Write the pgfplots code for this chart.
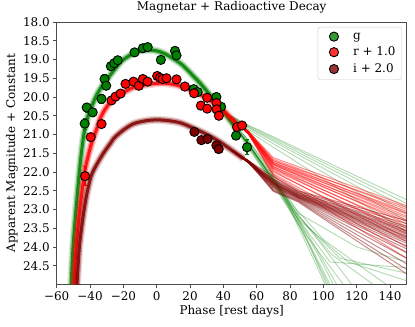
\documentclass[border=0pt]{standalone}
\usepackage{fontspec}
\setmainfont{DejaVu Serif}
\usepackage{pgfplots}
\usepackage{pgfplotstable}
\pgfplotsset{compat=1.18}
\definecolor{gcol}{HTML}{008000}
\definecolor{rcol}{HTML}{FF0000}
\definecolor{icol}{HTML}{800000}

% model bands
\pgfplotstableread{
x y
-51.3 25.0
-50.2 24.0
-48.4 23.0
-46.4 22.0
-45.2 21.5
-43.7 21.0
-41.5 20.55
-39.0 20.25
-36.0 19.95
-33.0 19.72
-29.3 19.5
-25.0 19.25
-20.7 19.03
-15.0 18.86
-10.0 18.77
-6.0 18.74
0.0 18.77
5.0 18.85
10.0 18.98
15.0 19.13
20.0 19.35
26.0 19.63
32.0 19.95
36.0 20.17
40.0 20.39
45.0 20.68
49.0 20.92
}\gband
\pgfplotstableread{
x y
-49.6 25.0
-48.4 24.0
-46.2 23.0
-43.2 22.0
-41.0 21.55
-38.5 21.15
-36.0 20.85
-33.7 20.55
-31.0 20.33
-28.0 20.15
-24.0 19.99
-20.0 19.88
-13.7 19.74
-5.0 19.66
4.0 19.63
12.0 19.68
20.0 19.8
28.0 19.98
36.0 20.21
42.0 20.45
48.0 20.72
}\rband
\pgfplotstableread{
x y
-47.8 25.0
-46.4 24.0
-44.2 23.2
-42.0 22.6
-39.3 22.1
-36.0 21.8
-32.0 21.5
-28.0 21.25
-25.7 21.1
-20.0 20.88
-13.7 20.71
-6.0 20.63
0.3 20.61
7.0 20.63
14.3 20.69
22.0 20.83
30.2 21.0
38.0 21.2
46.0 21.45
52.0 21.64
}\iband

% photometry: phase, mag, err
\pgfplotstableread{
x y e
-43.2 20.71 0.15
-42.0 20.28 0.12
-38.4 20.41 0.10
-33.1 20.05 0.12
-31.3 19.52 0.12
-30.3 19.70 0.10
-27.5 19.18 0.10
-25.5 19.10 0.08
-23.4 19.02 0.08
-13.3 18.81 0.05
-8.3 18.70 0.05
-5.4 18.67 0.05
2.5 19.01 0.05
11.0 18.77 0.06
11.9 18.89 0.06
22.2 19.79 0.06
24.6 19.87 0.06
35.8 20.00 0.06
38.6 20.26 0.08
47.6 21.03 0.10
54.2 21.34 0.20
}\gpts
\pgfplotstableread{
x y e
-43.0 22.11 0.25
-39.6 21.07 0.08
-33.1 20.72 0.08
-27.1 20.09 0.06
-24.7 19.99 0.06
-21.7 19.91 0.06
-18.7 19.65 0.05
-13.9 19.59 0.05
-10.7 19.70 0.05
-8.3 19.52 0.05
-5.5 19.59 0.05
0.3 19.44 0.05
2.0 19.49 0.05
3.5 19.52 0.05
5.9 19.50 0.05
11.9 19.53 0.05
16.9 19.72 0.05
22.4 19.90 0.05
26.5 20.23 0.05
30.3 20.02 0.05
30.3 20.31 0.08
35.9 20.16 0.06
35.9 20.33 0.08
37.3 20.50 0.10
48.2 20.80 0.10
51.2 20.76 0.10
}\rpts
\pgfplotstableread{
x y e
22.6 20.93 0.05
26.8 21.15 0.05
30.5 21.12 0.05
35.8 21.29 0.06
37.2 21.39 0.06
}\ipts

\pgfplotsset{
  bandA/.style={line width=8bp, opacity=0.15, smooth, tension=0.5, line join=round, forget plot},
  bandB/.style={line width=5.5bp, opacity=0.35, smooth, tension=0.5, line join=round, forget plot},
  bandC/.style={line width=3bp, opacity=0.85, smooth, tension=0.5, line join=round, forget plot},
  fan/.style={line width=1bp, opacity=0.45, line join=round, forget plot},
  gfan/.style={gcol, line width=0.9bp, opacity=0.3, line join=round, forget plot},
  pts/.style={only marks, mark=*, mark size=4.6bp,
    mark options={fill=#1, draw=black, line width=0.9bp},
    error bars/.cd, y dir=both, y explicit,
    error bar style={color=#1, line width=1.3bp},
    error mark options={color=#1, mark size=2.2bp, line width=1bp, rotate=90}},
}

\begin{document}
\begin{tikzpicture}
\begin{axis}[
  scale only axis, width=350bp, height=262.5bp,
  xmin=-60, xmax=150, ymin=18, ymax=25, y dir=reverse,
  xtick={-60,-40,-20,0,20,40,60,80,100,120,140},
  xticklabels={−60,−40,−20,0,20,40,60,80,100,120,140},
  ytick={18,18.5,19,19.5,20,20.5,21,21.5,22,22.5,23,23.5,24,24.5},
  yticklabels={18.0,18.5,19.0,19.5,20.0,20.5,21.0,21.5,22.0,22.5,23.0,23.5,24.0,24.5},
  tick pos=left, tick align=outside, major tick length=3.5bp,
  axis line style={black!70, line width=0.8bp},
  tick style={black!70, line width=0.8bp},
  tick label style={font=\fontsize{12}{14}\selectfont},
  title={Magnetar + Radioactive Decay},
  title style={at={(axis description cs:0.5,1.021)}, anchor=base, font=\fontsize{12}{14}\selectfont},
  xlabel={Phase [rest days]},
  xlabel style={at={(axis description cs:0.5,-0.1124)}, anchor=base, font=\fontsize{12}{14}\selectfont},
  ylabel={Apparent Magnitude + Constant},
  ylabel style={at={(axis description cs:-0.119,0.5)}, anchor=base, font=\fontsize{12}{14}\selectfont},
  legend style={at={(axis description cs:0.9857,0.981)}, anchor=north east,
    draw=black!20, rounded corners=2.5bp, fill=white, fill opacity=0.8, text opacity=1,
    font=\fontsize{12}{14}\selectfont, row sep=2.5bp, inner xsep=4bp, inner ysep=3.5bp},
  legend cell align=left,
  legend image code/.code={\path (0cm,0cm) (1.02cm,0cm);
    \draw[#1] plot coordinates {(0.42cm,0cm)};},
]
% green fan
\addplot[gfan] coordinates {(40,20.39)(55,20.75)(150,22.74)};
\addplot[gfan] coordinates {(40,20.39)(55,20.77)(150,22.84)};
\addplot[gfan] coordinates {(40,20.39)(55,20.80)(150,22.95)};
\addplot[gfan] coordinates {(40,20.39)(55,20.82)(150,23.1)};
\addplot[gfan] coordinates {(40,20.39)(55,20.86)(150,23.3)};
\addplot[gfan] coordinates {(40,20.39)(58,21.0)(150,23.6)};
\addplot[gfan] coordinates {(40,20.39)(54,21.2)(70,22.2)(80,22.85)(100,24.0)(117,25)};
\addplot[gfan] coordinates {(40,20.39)(54,21.15)(70,22.25)(78,22.8)(92,24.0)(102,25)};
\addplot[gfan] coordinates {(40,20.39)(54,21.25)(70,22.3)(80,23.0)(96,24.5)(101,25)};
\addplot[gfan] coordinates {(40,20.39)(54,21.2)(70,22.15)(82,23.0)(105,24.2)(130,25)};
\addplot[gfan] coordinates {(40,20.39)(54,21.1)(70,22.1)(85,23.2)(110,24.3)(150,24.7)};
\addplot[gfan] coordinates {(40,20.39)(54,21.1)(70,22.05)(85,23.1)(120,24.0)(150,24.4)};
\addplot[gfan] coordinates {(40,20.39)(54,21.25)(70,22.3)(75,22.6)(90,23.6)(108,25)};
\addplot[gfan] coordinates {(40,20.39)(54,21.2)(70,22.2)(80,22.8)(100,23.8)(125,24.6)(138,25)};
\addplot[gfan] coordinates {(40,20.39)(54,21.2)(70,22.2)(80,22.9)(98,24.3)(106,25)};
\addplot[gfan] coordinates {(40,20.39)(54,21.3)(70,22.35)(88,23.6)(104,25)};
\addplot[gfan] coordinates {(40,20.39)(54,21.15)(70,22.15)(86,23.3)(115,24.4)(150,24.9)};
\addplot[gfan] coordinates {(40,20.39)(54,21.2)(70,22.2)(90,23.7)(112,25)};
\addplot[gfan] coordinates {(40,20.39)(54,21.2)(70,22.22)(84,23.2)(104,24.4)(150,24.55)};
\addplot[gfan] coordinates {(40,20.39)(54,21.22)(70,22.26)(86,23.45)(103,25)};
% red fan
\addplot[rcol,fan] coordinates {(42,20.45)(55,20.92)(70,21.62)(150,22.9)};
\addplot[rcol,fan] coordinates {(42,20.45)(55,20.98)(70,21.7)(150,22.95)};
\addplot[rcol,fan] coordinates {(42,20.45)(55,20.92)(70,21.66)(150,23.0)};
\addplot[rcol,fan] coordinates {(42,20.45)(55,20.98)(70,21.75)(150,23.05)};
\addplot[rcol,fan] coordinates {(42,20.45)(55,20.92)(70,21.7)(150,23.1)};
\addplot[rcol,fan] coordinates {(42,20.45)(55,20.98)(70,21.78)(150,23.12)};
\addplot[rcol,fan] coordinates {(42,20.45)(55,20.92)(70,21.74)(150,23.18)};
\addplot[rcol,fan] coordinates {(42,20.45)(55,20.98)(70,21.82)(150,23.22)};
\addplot[rcol,fan] coordinates {(42,20.45)(55,20.92)(70,21.78)(150,23.28)};
\addplot[rcol,fan] coordinates {(42,20.45)(55,20.98)(70,21.86)(150,23.32)};
\addplot[rcol,fan] coordinates {(42,20.45)(55,20.92)(70,21.8)(150,23.38)};
\addplot[rcol,fan] coordinates {(42,20.45)(55,20.98)(70,21.9)(150,23.45)};
\addplot[rcol,fan] coordinates {(42,20.45)(55,20.92)(70,21.86)(150,23.5)};
\addplot[rcol,fan] coordinates {(42,20.45)(55,20.98)(70,21.94)(150,23.58)};
\addplot[rcol,fan] coordinates {(42,20.45)(55,20.92)(70,21.9)(150,23.65)};
\addplot[rcol,fan] coordinates {(42,20.45)(55,20.98)(70,22.0)(150,23.75)};
\addplot[rcol,fan] coordinates {(42,20.45)(55,20.92)(70,21.97)(150,23.85)};
\addplot[rcol,fan] coordinates {(42,20.45)(55,20.98)(70,22.05)(150,24.0)};
\addplot[rcol,fan] coordinates {(42,20.45)(55,20.95)(70,22.08)(150,24.15)};
\addplot[rcol,fan] coordinates {(42,20.45)(55,20.98)(70,22.12)(150,24.3)};
% dark red fan
\addplot[icol,fan] coordinates {(45,21.42)(55,21.7)(70,22.12)(85,22.5)(150,23.3)};
\addplot[icol,fan] coordinates {(45,21.42)(55,21.75)(70,22.18)(85,22.52)(150,23.38)};
\addplot[icol,fan] coordinates {(45,21.42)(55,21.7)(70,22.2)(85,22.55)(150,23.45)};
\addplot[icol,fan] coordinates {(45,21.42)(55,21.75)(70,22.24)(85,22.56)(150,23.5)};
\addplot[icol,fan] coordinates {(45,21.42)(55,21.7)(70,22.22)(85,22.58)(150,23.55)};
\addplot[icol,fan] coordinates {(45,21.42)(55,21.75)(70,22.27)(85,22.6)(150,23.58)};
\addplot[icol,fan] coordinates {(45,21.42)(55,21.7)(70,22.25)(85,22.6)(150,23.62)};
\addplot[icol,fan] coordinates {(45,21.42)(55,21.75)(70,22.3)(85,22.62)(150,23.66)};
\addplot[icol,fan] coordinates {(45,21.42)(55,21.7)(70,22.28)(85,22.63)(150,23.7)};
\addplot[icol,fan] coordinates {(45,21.42)(55,21.75)(70,22.32)(85,22.64)(150,23.73)};
\addplot[icol,fan] coordinates {(45,21.42)(55,21.7)(70,22.3)(85,22.65)(150,23.77)};
\addplot[icol,fan] coordinates {(45,21.42)(55,21.75)(70,22.34)(85,22.66)(150,23.8)};
\addplot[icol,fan] coordinates {(45,21.42)(55,21.7)(70,22.33)(85,22.67)(150,23.85)};
\addplot[icol,fan] coordinates {(45,21.42)(55,21.75)(70,22.37)(85,22.68)(150,23.9)};
\addplot[icol,fan] coordinates {(45,21.42)(55,21.7)(70,22.38)(85,22.69)(150,23.97)};
\addplot[icol,fan] coordinates {(45,21.42)(55,21.75)(70,22.4)(85,22.7)(150,24.05)};
\addplot[icol,fan] coordinates {(45,21.42)(55,21.7)(70,22.42)(85,22.72)(150,24.15)};
\addplot[icol,fan] coordinates {(45,21.42)(55,21.75)(70,22.45)(85,22.74)(150,24.3)};
\addplot[icol,fan] coordinates {(45,21.42)(55,21.7)(70,22.48)(85,22.76)(150,24.45)};
\addplot[icol,fan] coordinates {(45,21.42)(55,21.75)(70,22.5)(85,22.78)(150,24.6)};
\addplot[icol,fan] coordinates {(45,21.42)(55,21.72)(70,22.52)(85,22.8)(150,24.72)};
% model bands
\addplot[gcol,bandA] table {\gband};
\addplot[gcol,bandB] table {\gband};
\addplot[gcol,bandC] table {\gband};
\addplot[rcol,bandA] table {\rband};
\addplot[rcol,bandB] table {\rband};
\addplot[rcol,bandC] table {\rband};
\addplot[icol,bandA] table {\iband};
\addplot[icol,bandB] table {\iband};
\addplot[icol,bandC] table {\iband};
% photometry
\addplot[pts=gcol] table[x index=0, y index=1, y error index=2] {\gpts};
\addlegendentry{g}
\addplot[pts=rcol] table[x index=0, y index=1, y error index=2] {\rpts};
\addlegendentry{r + 1.0}
\addplot[pts=icol] table[x index=0, y index=1, y error index=2] {\ipts};
\addlegendentry{i + 2.0}
\coordinate (bbSW) at (axis description cs:-0.162,-0.1581);
\coordinate (bbNE) at (axis description cs:1.0237,1.0838);
\end{axis}
\pgfresetboundingbox
\path[use as bounding box] (bbSW) rectangle (bbNE);
\end{tikzpicture}
\end{document}
